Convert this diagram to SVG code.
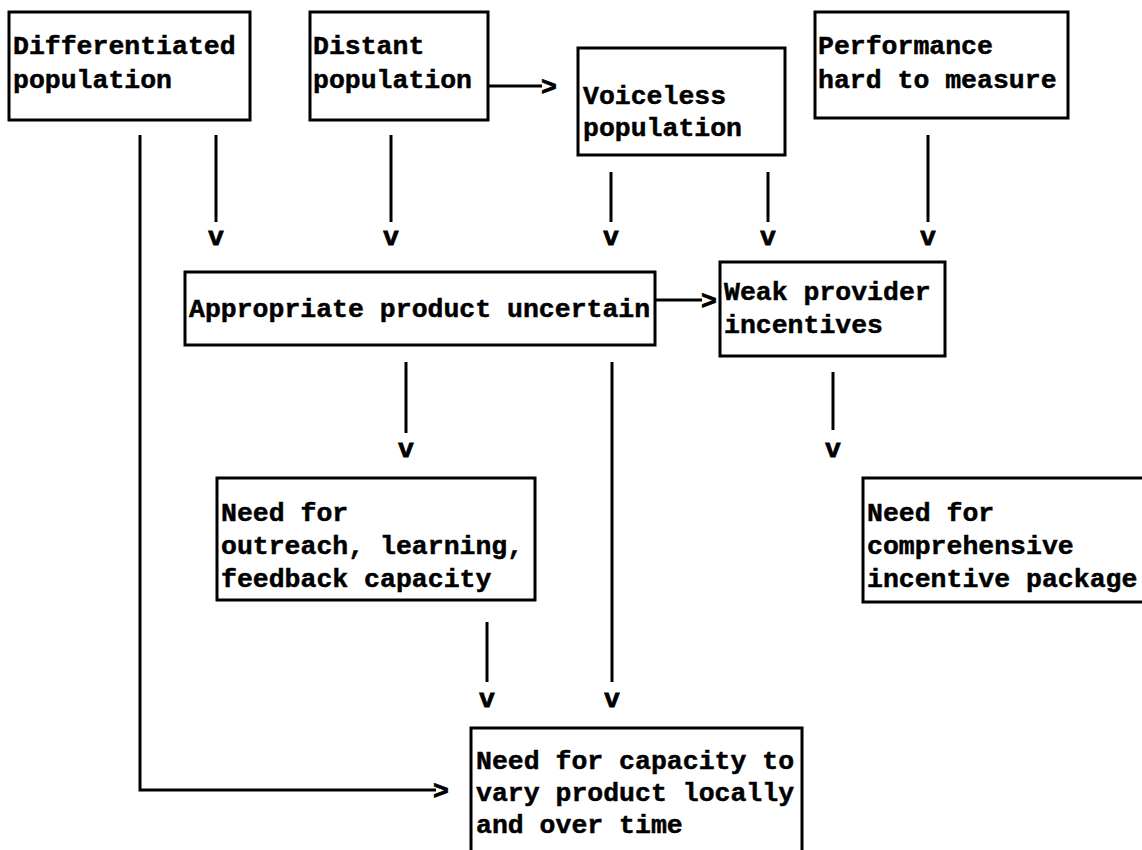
<svg xmlns="http://www.w3.org/2000/svg" width="1142" height="850" viewBox="0 0 1142 850">
<style>
.box{fill:#fff;stroke:#000;stroke-width:3}
.t{font-family:"Liberation Mono","DejaVu Sans Mono",monospace;font-weight:bold;font-size:26.5px;fill:#000;stroke:#000;stroke-width:0.5}
.ln{fill:none;stroke:#000;stroke-width:3}
.ah{font-family:"Liberation Mono","DejaVu Sans Mono",monospace;font-weight:bold;font-size:26.5px;fill:#000;stroke:#000;stroke-width:0.8;text-anchor:middle}
</style>
<rect width="1142" height="850" fill="#fff"/>
<g id="connectors">
<path class="ln" d="M489 86H542"/><text class="ah" x="549" y="95">&gt;</text>
<path class="ln" d="M656 300H702"/><text class="ah" x="709" y="309">&gt;</text>
<path class="ln" d="M140 135V790H436"/><text class="ah" x="441" y="799">&gt;</text>
<path class="ln" d="M216 135V222"/><text class="ah" x="216" y="245">v</text>
<path class="ln" d="M391 135V222"/><text class="ah" x="391" y="245">v</text>
<path class="ln" d="M611 172V222"/><text class="ah" x="611" y="245">v</text>
<path class="ln" d="M768 172V222"/><text class="ah" x="768" y="245">v</text>
<path class="ln" d="M928 135V222"/><text class="ah" x="928" y="245">v</text>
<path class="ln" d="M406 362V433"/><text class="ah" x="406" y="457">v</text>
<path class="ln" d="M833 372V430"/><text class="ah" x="833" y="457">v</text>
<path class="ln" d="M487 622V682"/><text class="ah" x="487" y="707">v</text>
<path class="ln" d="M612 362V682"/><text class="ah" x="612" y="707">v</text>
</g>
<g id="n-differentiated"><rect class="box" x="9" y="12" width="241" height="108"/><text class="t" x="13" y="54">Differentiated</text><text class="t" x="13" y="88">population</text></g>
<g id="n-distant"><rect class="box" x="310" y="12" width="178" height="108"/><text class="t" x="313" y="54">Distant</text><text class="t" x="313" y="88">population</text></g>
<g id="n-voiceless"><rect class="box" x="578" y="48" width="207" height="107"/><text class="t" x="583" y="104">Voiceless</text><text class="t" x="583" y="136">population</text></g>
<g id="n-performance"><rect class="box" x="815" y="12" width="253" height="106"/><text class="t" x="818" y="54">Performance</text><text class="t" x="818" y="88">hard to measure</text></g>
<g id="n-appropriate"><rect class="box" x="185" y="272" width="470" height="73"/><text class="t" x="189" y="317">Appropriate product uncertain</text></g>
<g id="n-weak"><rect class="box" x="720" y="262" width="225" height="94"/><text class="t" x="724" y="300">Weak provider</text><text class="t" x="724" y="333">incentives</text></g>
<g id="n-outreach"><rect class="box" x="217" y="478" width="318" height="122"/><text class="t" x="221" y="521">Need for</text><text class="t" x="221" y="554">outreach, learning,</text><text class="t" x="221" y="587">feedback capacity</text></g>
<g id="n-comprehensive"><rect class="box" x="863" y="478" width="300" height="124"/><text class="t" x="867" y="521">Need for</text><text class="t" x="867" y="554">comprehensive</text><text class="t" x="867" y="587">incentive package</text></g>
<g id="n-vary"><rect class="box" x="471" y="728" width="331" height="140"/><text class="t" x="476" y="769">Need for capacity to</text><text class="t" x="476" y="801">vary product locally</text><text class="t" x="476" y="833">and over time</text></g>
</svg>
